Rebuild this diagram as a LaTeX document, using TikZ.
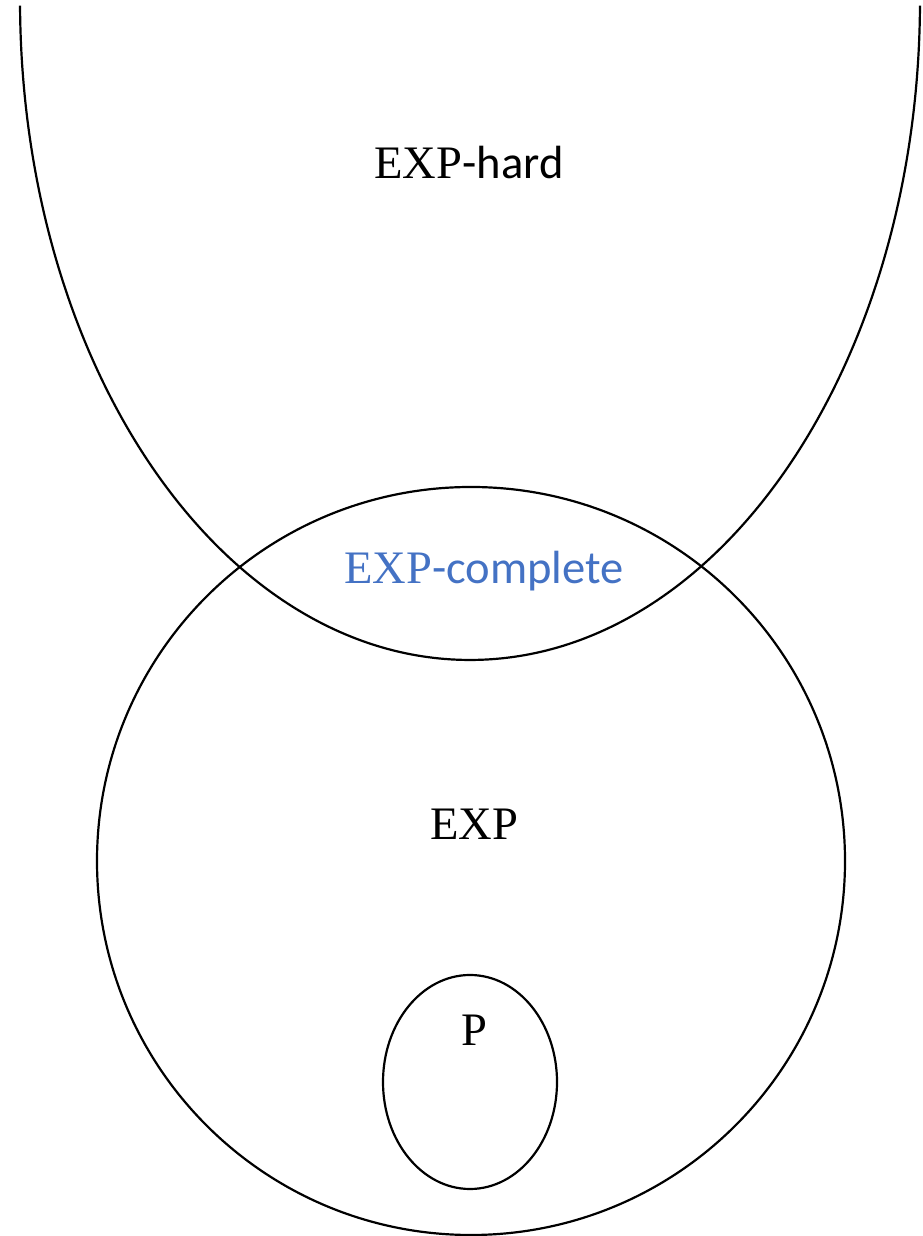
\documentclass[tikz,border=0pt]{standalone}
\usepackage{fontspec}
\setmainfont{Liberation Serif}
\newfontfamily\bodyfont{Carlito}
\definecolor{classblue}{HTML}{4472C4}
\tikzset{
  classline/.style={line width=1.25pt},
  classname/.style={anchor=base, font=\fontsize{26.5}{31}\selectfont, inner sep=0pt}
}
\begin{document}
\begin{tikzpicture}[x=0.02cm,y=0.02cm]
            \useasboundingbox (0,0) rectangle (922,1236);

            % EXP-hard (lower half of an ellipse)
            \draw[classline] (470,1236) ++(180.5:450 and 660) arc[start angle=180.5, end angle=359.5, x radius=450, y radius=660];
            % EXP
            \draw[classline] (471,375) circle (374);
            % P
            \draw[classline] (470,154) ellipse (87 and 107);

            % names of the classes
            \node[classname] (hard) at (469,1057) {EXP{\bodyfont -hard}};
            \node[classname, text=classblue] (complete) at (484,652) {EXP{\bodyfont -complete}};
            \node[classname] (exp) at (474,396) {EXP};
            \node[classname] (p) at (474,190) {P};
        \end{tikzpicture}
\end{document}
